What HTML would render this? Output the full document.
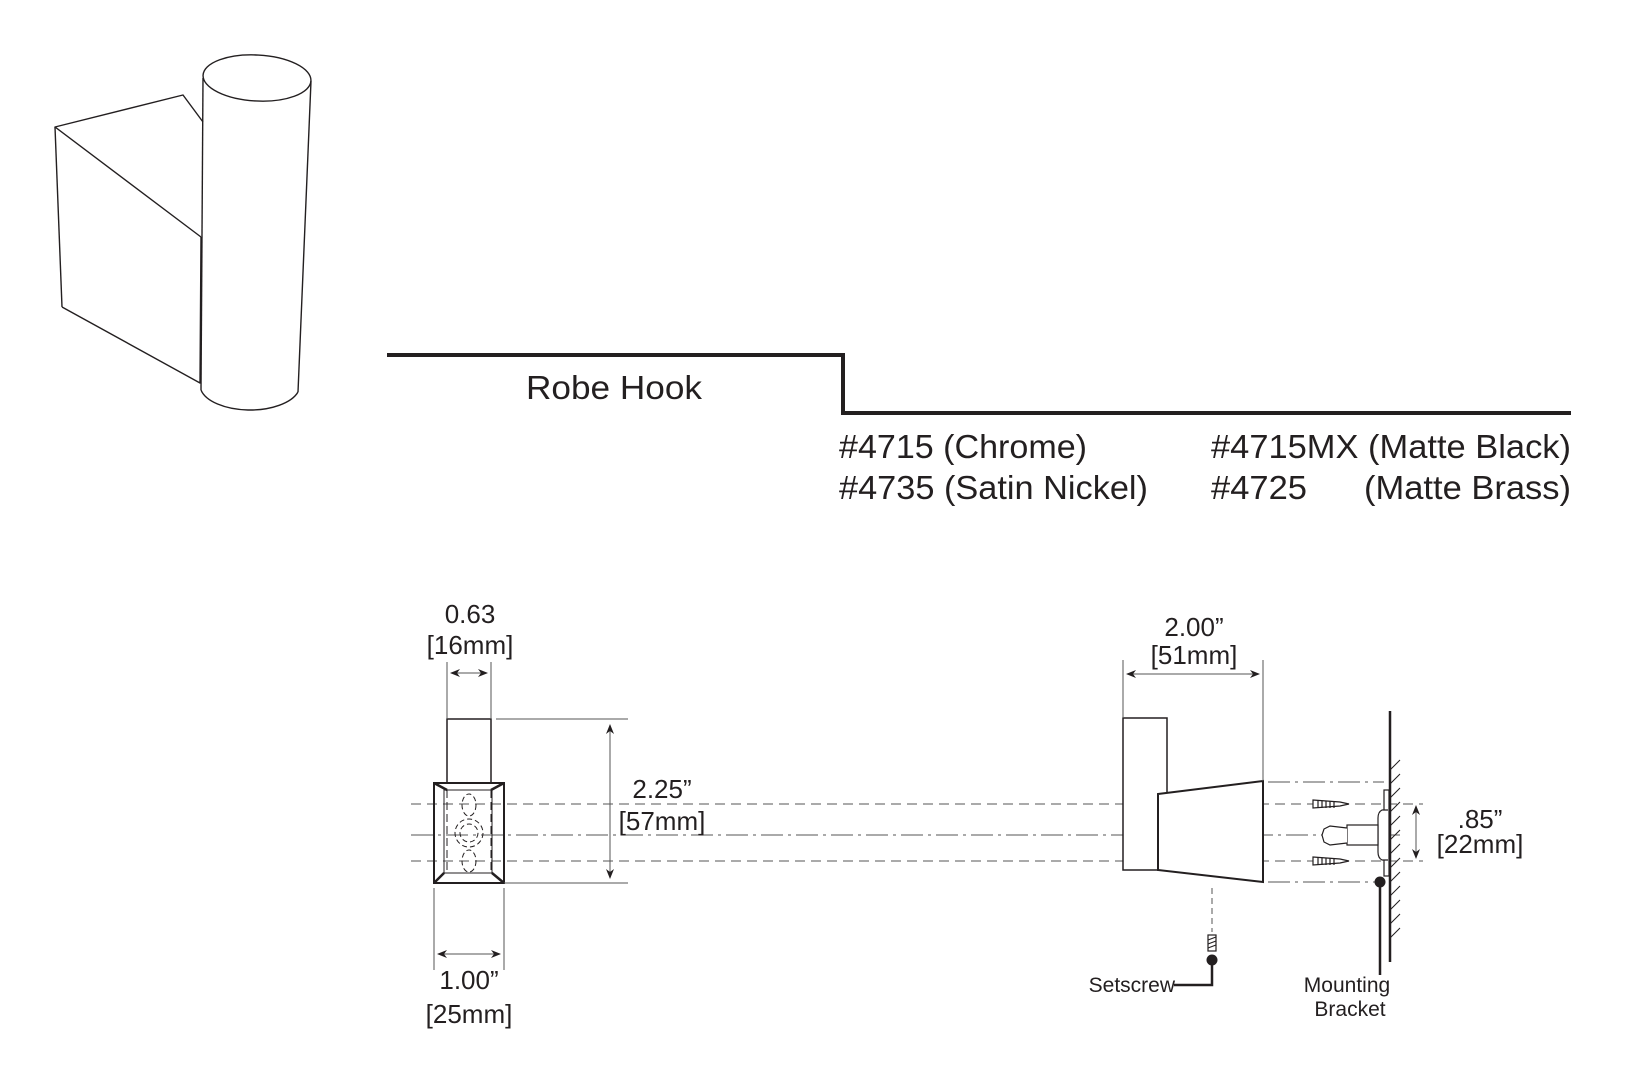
<!DOCTYPE html>
<html><head><meta charset="utf-8"><style>
html,body{margin:0;padding:0;background:#fff;width:1625px;height:1080px;overflow:hidden}
svg{display:block}
text{font-family:"Liberation Sans",sans-serif;fill:#231f20}
</style></head><body>
<svg width="1625" height="1080" viewBox="0 0 1625 1080" xmlns="http://www.w3.org/2000/svg">
<defs>
<marker id="ar" markerWidth="10" markerHeight="8" refX="9" refY="4" orient="auto" markerUnits="userSpaceOnUse">
<path d="M0,0 L10,4 L0,8 L3,4 Z" fill="#231f20"/></marker>
</defs>
<g fill="none" stroke="#231f20" stroke-width="1.4" stroke-linejoin="round">
<ellipse cx="257" cy="78" rx="54" ry="23" transform="rotate(3 257 78)"/>
<line x1="203" y1="78" x2="201" y2="390"/>
<line x1="311" y1="81" x2="298" y2="392"/>
<path d="M201,390 A50,25 0 0 0 298,392"/>
<polyline points="203,122 183,95 55,127 201,237"/>
<line x1="55" y1="127" x2="62" y2="307"/>
<polyline points="62,307 200,383 201,237"/>
</g>
<polyline points="387,355 843,355 843,413 1571,413" fill="none" stroke="#231f20" stroke-width="4"/>
<text x="526" y="399" font-size="33" textLength="176" lengthAdjust="spacingAndGlyphs">Robe Hook</text>
<g font-size="33">
<text x="839" y="458" textLength="248" lengthAdjust="spacingAndGlyphs">#4715 (Chrome)</text>
<text x="839" y="499" textLength="309" lengthAdjust="spacingAndGlyphs">#4735 (Satin Nickel)</text>
<text x="1211" y="458" textLength="360" lengthAdjust="spacingAndGlyphs">#4715MX (Matte Black)</text>
<text x="1211" y="499" textLength="96" lengthAdjust="spacingAndGlyphs">#4725</text>
<text x="1364" y="499" textLength="207" lengthAdjust="spacingAndGlyphs">(Matte Brass)</text>
</g>
<g fill="none" stroke="#555" stroke-width="1">
<line x1="411" y1="804" x2="1423" y2="804" stroke-dasharray="10,6"/>
<line x1="411" y1="861" x2="1423" y2="861" stroke-dasharray="10,6"/>
<line x1="411" y1="835" x2="1400" y2="835" stroke-dasharray="22,5,3,5"/>
<line x1="1268" y1="782" x2="1384" y2="782" stroke-dasharray="22,5,3,5"/>
<line x1="1268" y1="882" x2="1380" y2="882" stroke-dasharray="22,5,3,5"/>
</g>
<g fill="none" stroke="#231f20" stroke-width="1.5">
<rect x="447" y="719" width="44" height="64" fill="#fff"/>
<rect x="434" y="783" width="70" height="100" stroke-width="2"/>
<rect x="444" y="790" width="48" height="83" stroke-width="1"/>
<line x1="434" y1="783" x2="447" y2="790" stroke-width="2.5"/>
<line x1="504" y1="783" x2="491" y2="790" stroke-width="2.5"/>
<line x1="434" y1="883" x2="444" y2="873" stroke-width="2.5"/>
<line x1="504" y1="883" x2="492" y2="873" stroke-width="2.5"/>
<line x1="447" y1="790" x2="447" y2="873" stroke-width="1" stroke-dasharray="8,4"/>
<line x1="491" y1="790" x2="491" y2="873" stroke-width="1" stroke-dasharray="8,4"/>
<g stroke-width="1" stroke-dasharray="5,3">
<ellipse cx="469" cy="805" rx="7" ry="11"/>
<ellipse cx="469" cy="861" rx="7" ry="11"/>
<circle cx="469" cy="833" r="14"/>
<circle cx="469" cy="833" r="9"/>
</g>
</g>
<g stroke="#555" stroke-width="1" fill="none">
<line x1="447" y1="662" x2="447" y2="719"/>
<line x1="491" y1="662" x2="491" y2="719"/>
<line x1="469" y1="673" x2="451" y2="673" marker-end="url(#ar)"/>
<line x1="469" y1="673" x2="487" y2="673" marker-end="url(#ar)"/>
<line x1="496" y1="719" x2="628" y2="719"/>
<line x1="504" y1="883" x2="628" y2="883"/>
<line x1="610" y1="800" x2="610" y2="725" marker-end="url(#ar)"/>
<line x1="610" y1="800" x2="610" y2="878" marker-end="url(#ar)"/>
<line x1="434" y1="888" x2="434" y2="970"/>
<line x1="504" y1="888" x2="504" y2="970"/>
<line x1="469" y1="954" x2="438" y2="954" marker-end="url(#ar)"/>
<line x1="469" y1="954" x2="500" y2="954" marker-end="url(#ar)"/>
</g>
<g font-size="26" text-anchor="middle">
<text x="470" y="623">0.63</text>
<text x="470" y="654">[16mm]</text>
<text x="662" y="798">2.25”</text>
<text x="662" y="830">[57mm]</text>
<text x="469" y="989">1.00”</text>
<text x="469" y="1023">[25mm]</text>
</g>
<g fill="none" stroke="#231f20" stroke-width="1.5">
<rect x="1123" y="718" width="44" height="152" fill="#fff"/>
<polygon points="1158,794 1263,781 1263,882 1158,870" fill="#fff" stroke-width="2"/>
</g>
<g stroke="#555" stroke-width="1" fill="none">
<line x1="1123" y1="660" x2="1123" y2="718"/>
<line x1="1263" y1="660" x2="1263" y2="781"/>
<line x1="1193" y1="674" x2="1127" y2="674" marker-end="url(#ar)"/>
<line x1="1193" y1="674" x2="1259" y2="674" marker-end="url(#ar)"/>
<line x1="1416" y1="832" x2="1416" y2="806" marker-end="url(#ar)"/>
<line x1="1416" y1="832" x2="1416" y2="858" marker-end="url(#ar)"/>
<line x1="1212" y1="888" x2="1212" y2="932" stroke-dasharray="6,4"/>
</g>
<g font-size="26" text-anchor="middle">
<text x="1194" y="636">2.00”</text>
<text x="1194" y="664">[51mm]</text>
<text x="1480" y="828">.85”</text>
<text x="1480" y="853">[22mm]</text>
</g>
<line x1="1390" y1="711" x2="1390" y2="962" stroke="#231f20" stroke-width="2.5"/>
<g stroke="#231f20" stroke-width="1">
<path d="M1390,770 l10,-10 M1390,784 l10,-10 M1390,798 l10,-10 M1390,812 l10,-10 M1390,826 l10,-10 M1390,840 l10,-10 M1390,854 l10,-10 M1390,868 l10,-10 M1390,882 l10,-10 M1390,896 l10,-10 M1390,910 l10,-10 M1390,924 l10,-10 M1390,938 l10,-10"/>
</g>
<g fill="#fff" stroke="#231f20" stroke-width="1.2">
<rect x="1384" y="790" width="5" height="86"/>
<path d="M1388,810 L1382,810 Q1378,812 1378,818 L1378,852 Q1378,858 1382,860 L1388,860"/>
<rect x="1347" y="825" width="31" height="20"/>
<path d="M1347,828 L1330,826 L1324,829 L1322,835 L1324,842 L1330,845 L1347,843"/>
<path d="M1313,800 L1340,802 L1349,804 L1340,806 L1313,808 Z"/>
<path d="M1313,857 L1340,859 L1349,861 L1340,863 L1313,865 Z"/>
<path d="M1318,800 l0,8 M1322,801 l0,7 M1326,801 l0,7 M1330,801 l0,7 M1334,801 l0,7 M1318,857 l0,8 M1322,858 l0,7 M1326,858 l0,7 M1330,858 l0,7 M1334,858 l0,7" fill="none"/>
<rect x="1208" y="935" width="8" height="16"/>
<path d="M1208,940 l8,-3 M1208,944 l8,-3 M1208,948 l8,-3" fill="none"/>
</g>
<circle cx="1380" cy="882" r="5.5" fill="#231f20"/>
<line x1="1380" y1="882" x2="1380" y2="975" stroke="#231f20" stroke-width="2.5"/>
<circle cx="1212" cy="960" r="5.5" fill="#231f20"/>
<polyline points="1212,960 1212,985 1174,985" fill="none" stroke="#231f20" stroke-width="2.5"/>
<g font-size="21">
<text x="1175" y="992" text-anchor="end">Setscrew</text>
<text x="1347" y="992" text-anchor="middle">Mounting</text>
<text x="1350" y="1016" text-anchor="middle">Bracket</text>
</g>
</svg>
</body></html>
